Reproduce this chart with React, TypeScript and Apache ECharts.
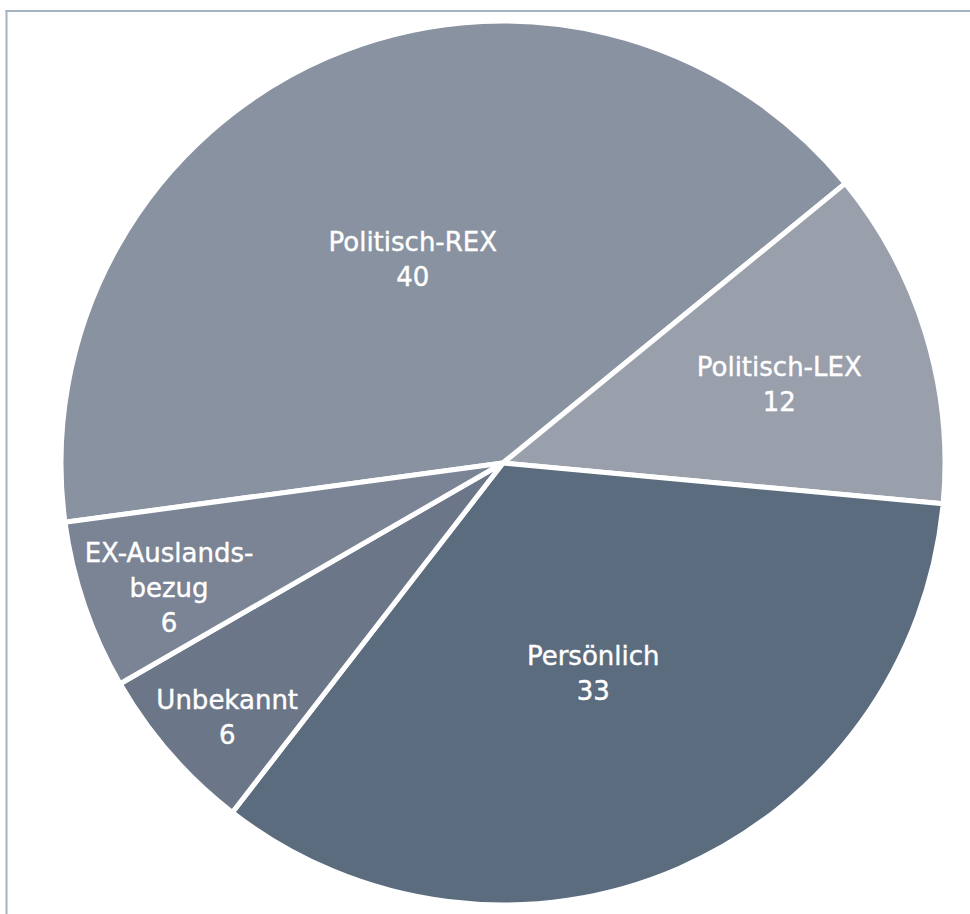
import React, { useEffect, useRef } from "react";
import * as echarts from "echarts";

const categories = ["Politisch-REX", "Politisch-LEX", "Persönlich", "Unbekannt", "EX-Auslandsbezug"];
const displayNames = ["Politisch-REX", "Politisch-LEX", "Persönlich", "Unbekannt", "EX-Auslands-\nbezug"];
const values = [40, 12, 33, 6, 6];

const colors = ["#8992a0", "#9aa0ab", "#5c6c7f", "#6b7788", "#7a8494"];
const labelOffsets: [number, number][] = [[-1, 2], [62, -13], [1, 5], [-107, 107], [-122, 53]];

export default function App() {
  const ref = useRef<HTMLDivElement>(null);
  useEffect(() => {
    if (!ref.current) return;
    const chart = echarts.init(ref.current, null, { renderer: "svg" });
    chart.setOption({
      animation: false,
      backgroundColor: "#ffffff",
      graphic: [
        { type: "line", shape: { x1: 6.5, y1: 10, x2: 6.5, y2: 914 }, style: { stroke: "#a5b2c0", lineWidth: 2 } },
        { type: "line", shape: { x1: 5.5, y1: 11, x2: 970, y2: 11 }, style: { stroke: "#a5b2c0", lineWidth: 2 } },
      ],
      series: [
        {
          type: "pie",
          center: [503, 463],
          radius: [0, 442],
          startAngle: 187.7,
          clockwise: true,
          avoidLabelOverlap: false,
          itemStyle: { borderColor: "#ffffff", borderWidth: 5 },
          label: {
            show: true,
            position: "inside",
            color: "#ffffff",
            fontFamily: "DejaVu Sans",
            fontSize: 26,
            lineHeight: 35,
            align: "center",
            textBorderColor: "#ffffff",
            textBorderWidth: 0.4,
            formatter: (p: any) => `${displayNames[p.dataIndex]}\n${p.value}`,
          },
          labelLine: { show: false },
          data: categories.map((name, i) => ({
            name,
            value: values[i],
            itemStyle: { color: colors[i] },
            label: { offset: labelOffsets[i] },
          })),
        },
      ],
    });
    return () => chart.dispose();
  }, []);
  return <div ref={ref} style={{ position: "absolute", left: 0, top: 0, width: 970, height: 914 }} />;
}
